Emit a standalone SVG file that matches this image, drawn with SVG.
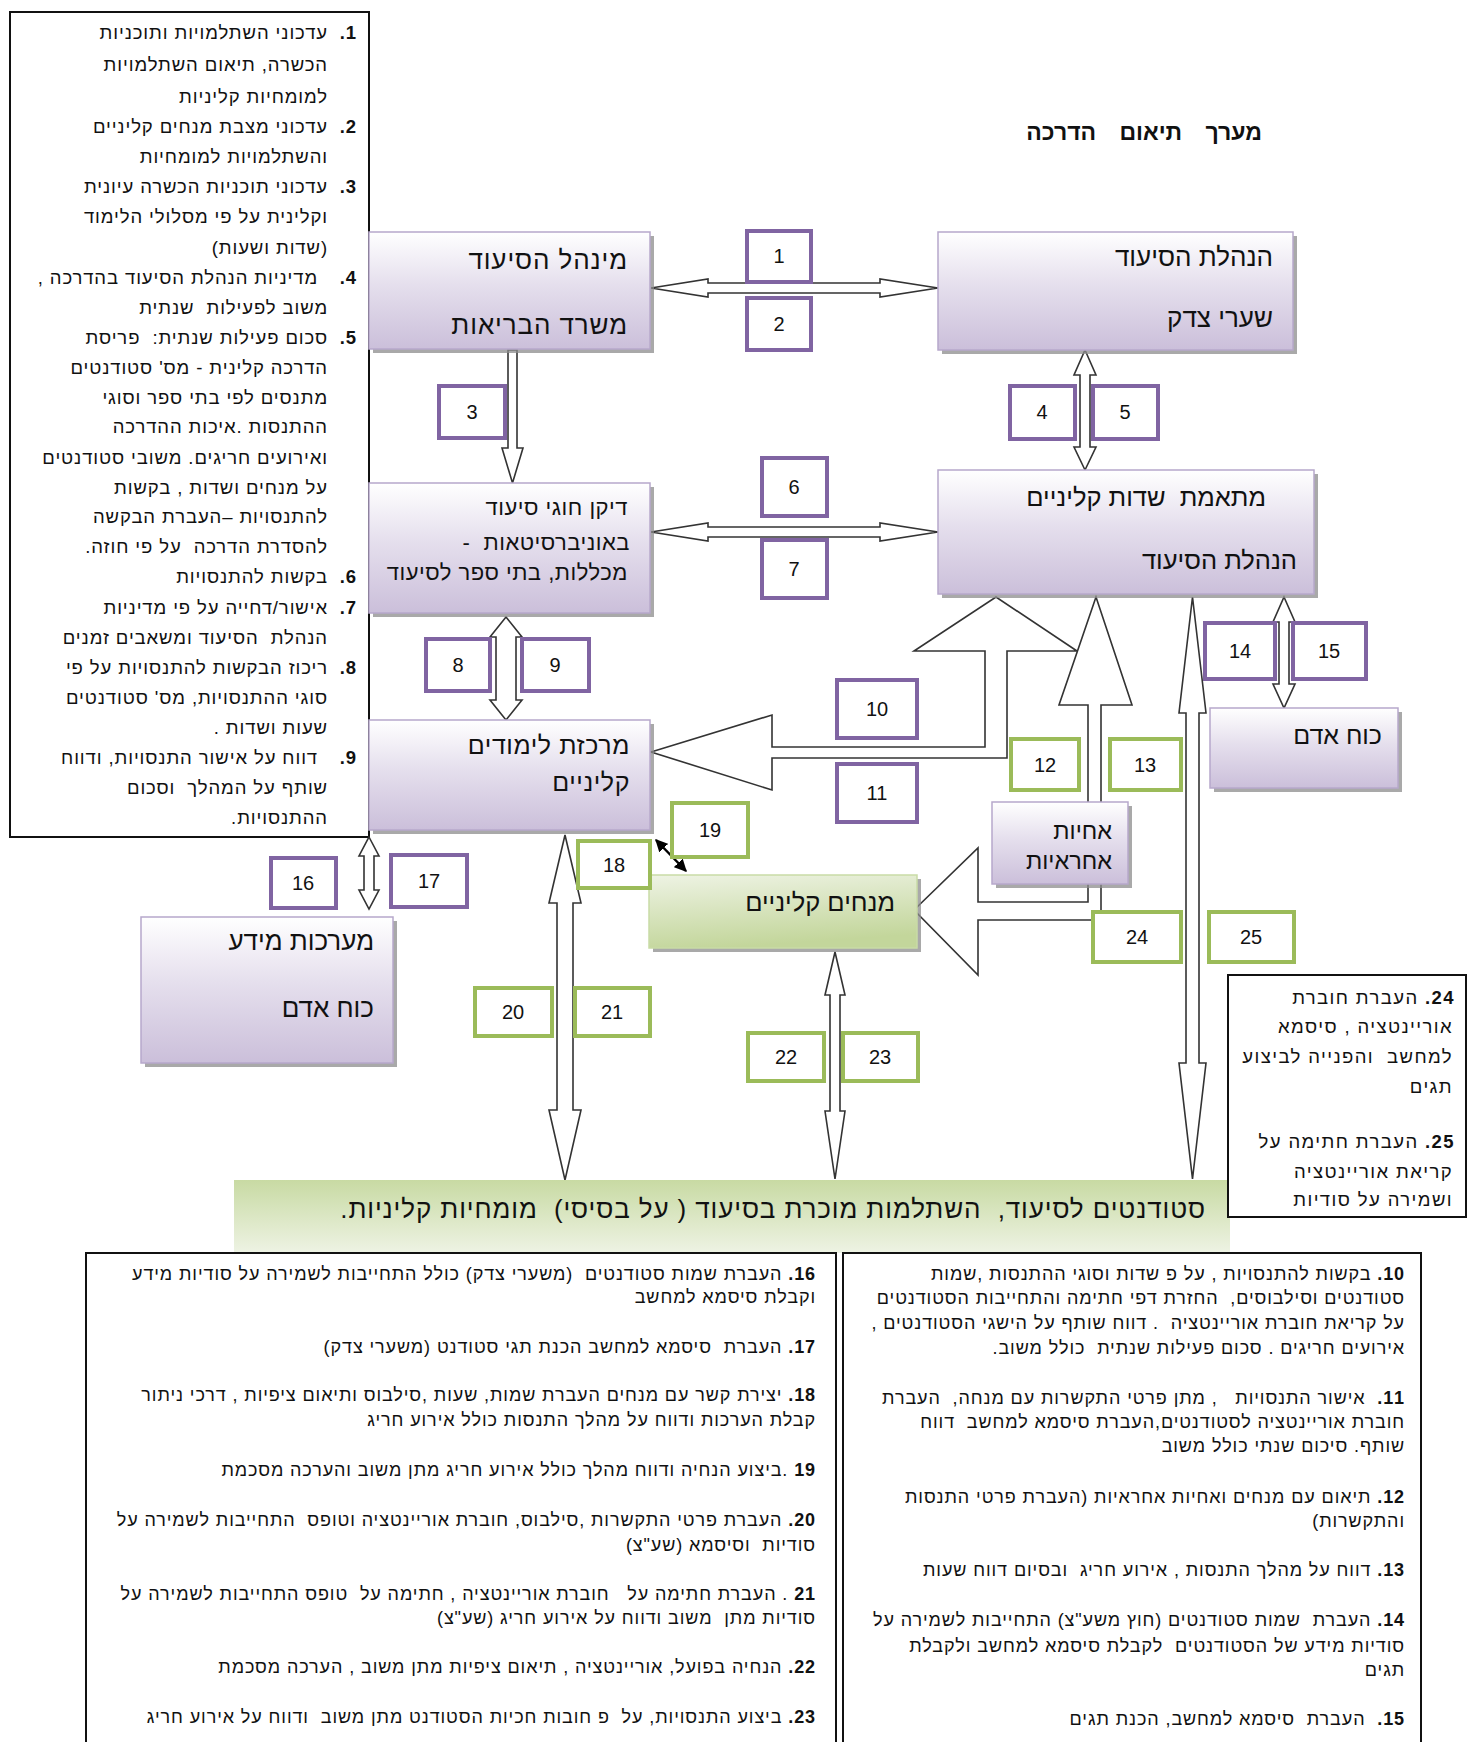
<svg xmlns="http://www.w3.org/2000/svg" width="1468" height="1742" viewBox="0 0 1468 1742">
<defs>
<linearGradient id="gp" x1="0" y1="0" x2="0" y2="1"><stop offset="0" stop-color="#ffffff"/><stop offset="0.45" stop-color="#e5dfed"/><stop offset="1" stop-color="#cbbfda"/></linearGradient>
<linearGradient id="gg" x1="0" y1="0" x2="0.25" y2="1"><stop offset="0" stop-color="#eef3e4"/><stop offset="1" stop-color="#c3d69b"/></linearGradient>
<linearGradient id="gs" x1="0" y1="0" x2="0" y2="1"><stop offset="0" stop-color="#c8daa3"/><stop offset="1" stop-color="#eef3e4"/></linearGradient>
<marker id="ah" viewBox="0 0 10 10" refX="9" refY="5" markerWidth="5" markerHeight="5" orient="auto-start-reverse"><path d="M0,0 L10,5 L0,10 Z" fill="#000"/></marker>
</defs>
<style>
text{font-family:"Liberation Sans","DejaVu Sans",Arial,sans-serif;fill:#111;white-space:pre}
.r{direction:rtl}
.node rect.b{fill:url(#gp);stroke:#b7a8cb;stroke-width:1.5}
.node rect.g{fill:url(#gg);stroke:#c9dba6;stroke-width:1.5}
.sh{fill:#8c8c8c;opacity:0.75}
.arr{fill:#fff;stroke:#333;stroke-width:1.6;stroke-linejoin:miter}
.lp rect{fill:#fff;stroke:#8064a2;stroke-width:4}
.lg rect{fill:#fff;stroke:#9bbb59;stroke-width:4}
.lab text{font-size:20px;text-anchor:middle}
.tb{fill:#fff;stroke:#111;stroke-width:2}
.s17 text{font-size:18.5px;letter-spacing:0.9px}
.s16 text{font-size:18px;letter-spacing:0.9px}
.s17b text{font-size:18.5px;letter-spacing:1.4px}
</style>
<rect width="1468" height="1742" fill="#fff"/>

<!-- left notes box -->
<g id="notes-left" class="s17">
<rect class="tb" x="10" y="12" width="359" height="825"/>
<text class="r" x="357" y="39" font-weight="bold">1.</text><text class="r" x="328" y="39">עדכוני השתלמויות ותוכניות</text>
<text class="r" x="328" y="71">הכשרה, תיאום השתלמויות</text>
<text class="r" x="328" y="103">למומחיות קליניות</text>
<text class="r" x="357" y="133" font-weight="bold">2.</text><text class="r" x="328" y="133">עדכוני מצבת מנחים קליניים</text>
<text class="r" x="328" y="163">והשתלמויות למומחיות</text>
<text class="r" x="357" y="193" font-weight="bold">3.</text><text class="r" x="328" y="193">עדכוני תוכניות הכשרה עיונית</text>
<text class="r" x="328" y="223">וקלינית על פי מסלולי הלימוד</text>
<text class="r" x="328" y="254">(שדות ושעות)</text>
<text class="r" x="357" y="284" font-weight="bold">4.</text><text class="r" x="318" y="284">מדיניות הנהלת הסיעוד בהדרכה ,</text>
<text class="r" x="328" y="314">משוב לפעילות  שנתית</text>
<text class="r" x="357" y="344" font-weight="bold">5.</text><text class="r" x="328" y="344">סכום פעילות שנתית:  פריסת</text>
<text class="r" x="328" y="374">הדרכה קלינית - מס' סטודנטים</text>
<text class="r" x="328" y="404">מתנסים לפי בתי ספר וסוגי</text>
<text class="r" x="328" y="433">ההתנסות .איכות ההדרכה</text>
<text class="r" x="328" y="464">ואירועים חריגים. משובי סטודנטים</text>
<text class="r" x="328" y="494">על מנחים ושדות , בקשות</text>
<text class="r" x="328" y="523">להתנסויות –העברת הבקשה</text>
<text class="r" x="328" y="553">להסדרת הדרכה  על פי חוזה.</text>
<text class="r" x="357" y="583" font-weight="bold">6.</text><text class="r" x="328" y="583">בקשות להתנסויות</text>
<text class="r" x="357" y="614" font-weight="bold">7.</text><text class="r" x="328" y="614">אישור/דחייה על פי מדיניות</text>
<text class="r" x="328" y="644">הנהלת  הסיעוד ומשאבים זמנים</text>
<text class="r" x="357" y="674" font-weight="bold">8.</text><text class="r" x="328" y="674">ריכוז הבקשות להתנסויות על פי</text>
<text class="r" x="328" y="704">סוגי ההתנסויות, מס' סטודנטים</text>
<text class="r" x="328" y="734">שעות ושדות .</text>
<text class="r" x="357" y="764" font-weight="bold">9.</text><text class="r" x="318" y="764">דווח על אישור התנסויות, ודווח</text>
<text class="r" x="328" y="794">שותף על המהלך  וסכום</text>
<text class="r" x="328" y="824">ההתנסויות.</text>
</g>

<g id="title"><text class="r" x="1262" y="140" font-size="23" font-weight="bold" word-spacing="17">מערך תיאום הדרכה</text></g>

<!-- connectors -->
<g id="connectors">
<path class="arr" d="M651,288 L708,279 L708,283 L880,283 L880,279 L938,288 L880,297 L880,293 L708,293 L708,297 Z"/>
<path class="arr" d="M651,532 L708,523 L708,527 L880,527 L880,523 L938,532 L880,541 L880,537 L708,537 L708,541 Z"/>
<path class="arr" d="M508,350 L517,350 L517,448 L523,448 L512.5,483 L502,448 L508,448 Z"/>
<path class="arr" d="M1085,350 L1096,375 L1090,375 L1090,447 L1096,447 L1085,470 L1074,447 L1080,447 L1080,375 L1074,375 Z"/>
<path class="arr" d="M506,617 L522,637 L516,637 L516,700 L522,700 L506,720 L490,700 L496,700 L496,637 L490,637 Z"/>
<path class="arr" d="M1284,597 L1295,622 L1289,622 L1289,684 L1295,684 L1284,708 L1273,684 L1279,684 L1279,622 L1273,622 Z"/>
<path class="arr" d="M369,837 L379,856 L374,856 L374,890 L379,890 L369,909 L359,890 L364,890 L364,856 L359,856 Z"/>
<path class="arr" d="M565,835 L581,903 L573,903 L573,1110 L581,1110 L565,1180 L549,1110 L557,1110 L557,903 L549,903 Z"/>
<path class="arr" d="M835,952 L845,995 L840,995 L840,1111 L845,1111 L835,1179 L825,1111 L830,1111 L830,995 L825,995 Z"/>
<path class="arr" d="M1192.5,597 L1206,713 L1199,713 L1199,1063 L1206,1063 L1192.5,1179 L1179,1063 L1186,1063 L1186,713 L1179,713 Z"/>
<path class="arr" d="M651,752 L772,715 L772,747 L985,747 L985,651 L914,651 L996,597 L1077,651 L1007,651 L1007,758 L772,758 L772,790 Z"/>
<path class="arr" d="M914,910 L978,848 L978,902 L1088,902 L1088,705 L1059,705 L1096,597 L1132,705 L1101,705 L1101,920 L978,920 L978,975 Z"/>
<line x1="656" y1="840" x2="686" y2="871" stroke="#000" stroke-width="2.5" marker-start="url(#ah)" marker-end="url(#ah)"/>
</g>

<!-- nodes -->
<g id="n-minhal" class="node"><rect class="sh" x="373" y="236" width="281" height="117"/><rect class="b" x="369" y="232" width="281" height="117"/>
<text class="r" font-size="26" letter-spacing="0.9" x="628" y="269">מינהל הסיעוד</text><text class="r" font-size="26" letter-spacing="0.9" x="628" y="334">משרד הבריאות</text></g>
<g id="n-hanhala" class="node"><rect class="sh" x="942" y="236" width="355" height="118"/><rect class="b" x="938" y="232" width="355" height="118"/>
<text class="r" font-size="26" x="1273" y="266">הנהלת הסיעוד</text><text class="r" font-size="26" x="1273" y="327">שערי צדק</text></g>
<g id="n-dikan" class="node"><rect class="sh" x="373" y="487" width="281" height="130"/><rect class="b" x="369" y="483" width="281" height="130"/>
<text class="r" font-size="22" letter-spacing="0.5" x="628" y="515">דיקן חוגי סיעוד</text><text class="r" font-size="22" letter-spacing="0.5" x="630" y="550">באוניברסיטאות  -</text><text class="r" font-size="22" letter-spacing="0.5" x="628" y="580">מכללות, בתי ספר לסיעוד</text></g>
<g id="n-metaemet" class="node"><rect class="sh" x="942" y="474" width="376" height="124"/><rect class="b" x="938" y="470" width="376" height="124"/>
<text class="r" font-size="25.5" x="1266" y="506">מתאמת  שדות קליניים</text><text class="r" font-size="25.5" x="1297" y="569">הנהלת הסיעוד</text></g>
<g id="n-merakezet" class="node"><rect class="sh" x="373" y="724" width="281" height="110"/><rect class="b" x="369" y="720" width="281" height="110"/>
<text class="r" font-size="25" letter-spacing="0.6" x="630" y="754">מרכזת לימודים</text><text class="r" font-size="25" letter-spacing="0.6" x="630" y="791">קליניים</text></g>
<g id="n-maarachot" class="node"><rect class="sh" x="145" y="921" width="252" height="146"/><rect class="b" x="141" y="917" width="252" height="146"/>
<text class="r" font-size="26" x="374" y="950">מערכות מידע</text><text class="r" font-size="26" x="374" y="1017">כוח אדם</text></g>
<g id="n-koach" class="node"><rect class="sh" x="1214" y="712" width="188" height="80"/><rect class="b" x="1210" y="708" width="188" height="80"/>
<text class="r" font-size="25" x="1382" y="744">כוח אדם</text></g>
<g id="n-achayot" class="node"><rect class="sh" x="996" y="806" width="136" height="82"/><rect class="b" x="992" y="802" width="136" height="82"/>
<text class="r" font-size="23.5" x="1112" y="839">אחיות</text><text class="r" font-size="23.5" x="1112" y="869">אחראיות</text></g>
<g id="n-manchim" class="node"><rect class="sh" x="653" y="879" width="268" height="73"/><rect class="g" x="649" y="875" width="268" height="73"/>
<text class="r" font-size="25.5" x="895" y="911">מנחים קליניים</text></g>
<g id="n-students" class="node"><rect x="234" y="1180" width="996" height="73" fill="url(#gs)"/>
<text class="r" font-size="26" letter-spacing="0.9" x="1206" y="1218">סטודנטים לסיעוד,  השתלמות מוכרת בסיעוד ( על בסיסי)  מומחיות קליניות.</text></g>

<!-- labels -->
<g id="labels" class="lab">
<g class="lp"><rect x="747" y="231" width="64" height="51"/><text x="779" y="263">1</text></g>
<g class="lp"><rect x="747" y="298" width="64" height="52"/><text x="779" y="331">2</text></g>
<g class="lp"><rect x="439" y="386" width="66" height="52"/><text x="472" y="419">3</text></g>
<g class="lp"><rect x="1010" y="386" width="65" height="53"/><text x="1042" y="419">4</text></g>
<g class="lp"><rect x="1093" y="386" width="65" height="53"/><text x="1125" y="419">5</text></g>
<g class="lp"><rect x="762" y="458" width="65" height="58"/><text x="794" y="494">6</text></g>
<g class="lp"><rect x="762" y="540" width="65" height="58"/><text x="794" y="576">7</text></g>
<g class="lp"><rect x="426" y="639" width="64" height="52"/><text x="458" y="672">8</text></g>
<g class="lp"><rect x="522" y="639" width="67" height="52"/><text x="555" y="672">9</text></g>
<g class="lp"><rect x="837" y="680" width="80" height="58"/><text x="877" y="716">10</text></g>
<g class="lp"><rect x="837" y="764" width="80" height="58"/><text x="877" y="800">11</text></g>
<g class="lp"><rect x="1205" y="623" width="70" height="56"/><text x="1240" y="658">14</text></g>
<g class="lp"><rect x="1293" y="623" width="73" height="56"/><text x="1329" y="658">15</text></g>
<g class="lp"><rect x="271" y="858" width="65" height="50"/><text x="303" y="890">16</text></g>
<g class="lp"><rect x="391" y="855" width="76" height="52"/><text x="429" y="888">17</text></g>
<g class="lg"><rect x="1011" y="739" width="68" height="51"/><text x="1045" y="772">12</text></g>
<g class="lg"><rect x="1110" y="739" width="71" height="51"/><text x="1145" y="772">13</text></g>
<g class="lg"><rect x="578" y="841" width="72" height="47"/><text x="614" y="872">18</text></g>
<g class="lg"><rect x="672" y="803" width="76" height="54"/><text x="710" y="837">19</text></g>
<g class="lg"><rect x="475" y="988" width="77" height="48"/><text x="513" y="1019">20</text></g>
<g class="lg"><rect x="575" y="988" width="75" height="48"/><text x="612" y="1019">21</text></g>
<g class="lg"><rect x="748" y="1033" width="76" height="48"/><text x="786" y="1064">22</text></g>
<g class="lg"><rect x="843" y="1033" width="75" height="48"/><text x="880" y="1064">23</text></g>
<g class="lg"><rect x="1093" y="912" width="88" height="50"/><text x="1137" y="944">24</text></g>
<g class="lg"><rect x="1209" y="912" width="85" height="50"/><text x="1251" y="944">25</text></g>
</g>

<!-- right notes box 24/25 -->
<g id="notes-24-25" class="s17b">
<rect class="tb" x="1228" y="975" width="238" height="242"/>
<text class="r" x="1455" y="1004"><tspan font-weight="bold">24.</tspan> העברת חוברת</text>
<text class="r" x="1453" y="1033">אוריינטציה , סיסמא</text>
<text class="r" x="1453" y="1063">למחשב  והפנייה לביצוע</text>
<text class="r" x="1453" y="1093">תגים</text>
<text class="r" x="1455" y="1148"><tspan font-weight="bold">25.</tspan> העברת חתימה על</text>
<text class="r" x="1453" y="1178">קריאת אוריינטציה</text>
<text class="r" x="1453" y="1206">ושמירה על סודיות</text>
</g>

<!-- bottom left notes -->
<g id="notes-16-23" class="s16">
<rect class="tb" x="86" y="1253" width="750" height="500"/>
<text class="r" x="816" y="1280"><tspan font-weight="bold">16.</tspan> העברת שמות סטודנטים  (משערי צדק) כולל התחייבות לשמירה על סודיות מידע</text>
<text class="r" x="816" y="1303">וקבלת סיסמא למחשב</text>
<text class="r" x="816" y="1353"><tspan font-weight="bold">17.</tspan> העברת  סיסמא למחשב הכנת תגי סטודנט (משערי צדק)</text>
<text class="r" x="816" y="1401"><tspan font-weight="bold">18.</tspan> יצירת קשר עם מנחים העברת שמות, שעות ,סילבוס ותיאום ציפיות , דרכי ניתור</text>
<text class="r" x="816" y="1426">קבלת הערכות ודווח על מהלך התנסות כולל אירוע חריג</text>
<text class="r" x="816" y="1476"><tspan font-weight="bold">19</tspan> .ביצוע הנחיה ודווח מהלך כולל אירוע חריג מתן משוב והערכה מסכמת</text>
<text class="r" x="816" y="1526"><tspan font-weight="bold">20.</tspan> העברת פרטי התקשרות ,סילבוס, חוברת אוריינטציה וטופס  התחייבות לשמירה על</text>
<text class="r" x="816" y="1551">סודיות  וסיסמא (שע"צ)</text>
<text class="r" x="816" y="1600"><tspan font-weight="bold">21</tspan> . העברת חתימה על   חוברת אוריינטציה , חתימה על  טופס התחייבות לשמירה על</text>
<text class="r" x="816" y="1624">סודיות מתן  משוב ודווח על אירוע חריג (שע"צ)</text>
<text class="r" x="816" y="1673"><tspan font-weight="bold">22.</tspan> הנחיה בפועל, אוריינטציה , תיאום ציפיות מתן משוב , הערכה מסכמת</text>
<text class="r" x="816" y="1723"><tspan font-weight="bold">23.</tspan> ביצוע התנסויות, על  פ חובות חכיות הסטודנט מתן משוב  ודווח על אירוע חריג</text>
</g>

<!-- bottom right notes -->
<g id="notes-10-15" class="s16">
<rect class="tb" x="843" y="1253" width="578" height="500"/>
<text class="r" x="1405" y="1280"><tspan font-weight="bold">10.</tspan> בקשות להתנסויות , על פ שדות וסוגי ההתנסות ,שמות</text>
<text class="r" x="1405" y="1304">סטודנטים וסילבוסים,  החזרת דפי חתימה והתחייבות הסטודנטים</text>
<text class="r" x="1405" y="1329">על קריאת חוברת אוריינטציה  . דווח שותף על הישגי הסטודנטים ,</text>
<text class="r" x="1405" y="1354">אירועים חריגים . סכום פעילות שנתית  כולל משוב.</text>
<text class="r" x="1405" y="1404"><tspan font-weight="bold">11.</tspan>  אישור התנסויות   , מתן פרטי התקשרות עם מנחה,  העברת</text>
<text class="r" x="1405" y="1428">חוברת אוריינטציה לסטודנטים,העברת סיסמא למחשב  דווח</text>
<text class="r" x="1405" y="1452">שותף. סיכום שנתי כולל משוב</text>
<text class="r" x="1405" y="1503"><tspan font-weight="bold">12.</tspan> תיאום עם מנחים ואחיות אחראיות (העברת פרטי התנסות</text>
<text class="r" x="1405" y="1527">והתקשרות)</text>
<text class="r" x="1405" y="1576"><tspan font-weight="bold">13.</tspan> דווח על מהלך התנסות , אירוע חריג  ובסיום דווח שעות</text>
<text class="r" x="1405" y="1626"><tspan font-weight="bold">14.</tspan> העברת  שמות סטודנטים (חוץ משע"צ) התחייבות לשמירה על</text>
<text class="r" x="1405" y="1652">סודיות מידע של הסטודנטים  לקבלת סיסמא למחשב ולקבלת</text>
<text class="r" x="1405" y="1676">תגים</text>
<text class="r" x="1405" y="1725"><tspan font-weight="bold">15.</tspan>  העברת  סיסמא למחשב, הכנת תגים</text>
</g>
</svg>
